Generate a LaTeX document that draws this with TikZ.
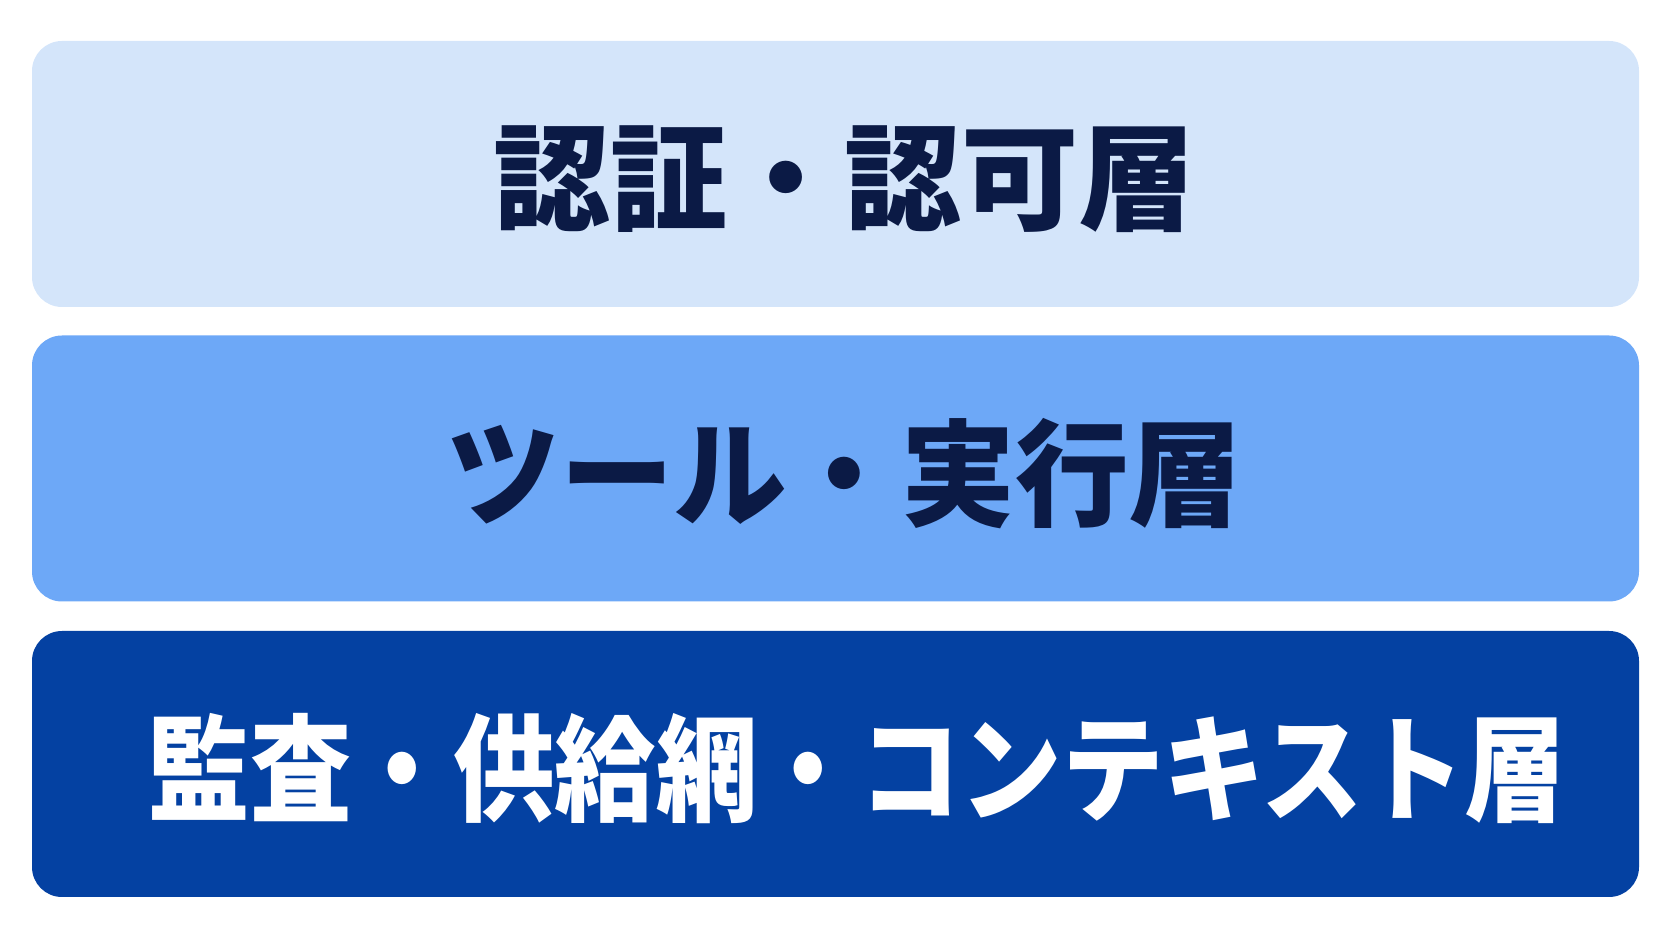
\documentclass[tikz,border=0pt]{standalone}
\usepackage{fontspec}
\usepackage{xcolor}
\newfontfamily\cjk{Noto Sans CJK JP}
\usepackage{tikz}
\definecolor{paleblue}{HTML}{D4E5FA}
\definecolor{midblue}{HTML}{6DA8F7}
\definecolor{deepblue}{HTML}{0441A2}
\definecolor{inkblue}{HTML}{0B1A45}
\tikzstyle{layer} = [rectangle,rounded corners=30pt,minimum width=1607pt,minimum height=266pt,inner sep=0pt,font=\cjk\bfseries\fontsize{116pt}{116pt}\selectfont]
\newcommand{\layertext}[2]{\raisebox{-5pt}[\height][\depth]{\scalebox{#1}[1]{#2}}}

\begin{document}
\begin{tikzpicture}
      \useasboundingbox(0,0)rectangle(1672pt,941pt);
      \node[layer,fill=paleblue,text=inkblue](auth)at(835.5pt,767pt){\hspace*{18pt}\layertext{1.01}{認証・認可層}};
      \node[layer,fill=midblue,text=inkblue](tool)at(835.5pt,472.5pt){\hspace*{18pt}\layertext{.98}{ツール・実行層}};
      \node[layer,fill=deepblue,text=white](audit)at(835.5pt,177pt){\hspace*{44pt}\layertext{.875}{監査・供給網・コンテキスト層}};
    \end{tikzpicture}
\end{document}
